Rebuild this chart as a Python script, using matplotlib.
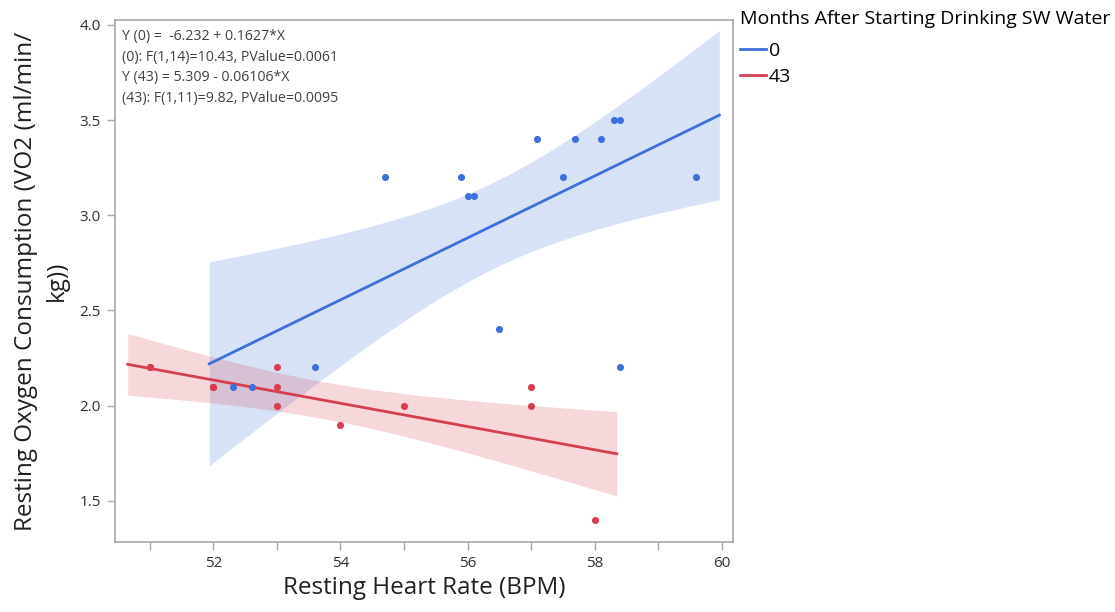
import math
import numpy as np
import matplotlib
matplotlib.use("Agg")
import matplotlib.pyplot as plt
from matplotlib.lines import Line2D

plt.rcParams['font.family'] = ['Open Sans', 'DejaVu Sans']

# ---------------- data ----------------
groups = ["0", "43"]
hr_0 = [52.3, 52.6, 53.6, 54.7, 55.9, 56.0, 56.1, 56.5, 57.1, 57.5, 57.7, 58.1, 58.3, 58.4, 59.6, 58.4]
vo2_0 = [2.1, 2.1, 2.2, 3.2, 3.2, 3.1, 3.1, 2.4, 3.4, 3.2, 3.4, 3.4, 3.5, 3.5, 3.2, 2.2]
hr_43 = [51, 51, 52, 52, 52, 53, 53, 53, 54, 55, 57, 57, 58]
vo2_43 = [2.2, 2.2, 2.1, 2.1, 2.1, 2.2, 2.1, 2.0, 1.9, 2.0, 2.1, 2.0, 1.4]
fit_text = ["Y (0) =  -6.232 + 0.1627*X",
            "(0): F(1,14)=10.43, PValue=0.0061",
            "Y (43) = 5.309 - 0.06106*X",
            "(43): F(1,11)=9.82, PValue=0.0095"]
x_ticks = [52, 54, 56, 58, 60]
y_ticks = [1.5, 2.0, 2.5, 3.0, 3.5, 4.0]

colors = {"0": "#3E6FDB", "43": "#D63F4F"}


def t_pdf(t, df):
    c = math.exp(math.lgamma((df + 1) / 2) - math.lgamma(df / 2)) / math.sqrt(df * math.pi)
    return c * (1 + t * t / df) ** (-(df + 1) / 2)


def t_quantile(p, df):
    grid = np.linspace(0, 10, 200001)
    pdf = t_pdf(grid, df)
    cdf = 0.5 + np.concatenate([[0], np.cumsum((pdf[1:] + pdf[:-1]) / 2 * np.diff(grid))])
    return float(np.interp(p, cdf, grid))


def fit_band(x, y):
    x = np.asarray(x, float)
    y = np.asarray(y, float)
    n = len(x)
    b, a = np.polyfit(x, y, 1)
    resid = y - (a + b * x)
    s = math.sqrt(np.sum(resid ** 2) / (n - 2))
    mx = x.mean()
    sxx = np.sum((x - mx) ** 2)
    rng = x.max() - x.min()
    xs = np.linspace(x.min() - 0.05 * rng, x.max() + 0.05 * rng, 200)
    ys = a + b * xs
    tc = t_quantile(0.975, n - 2)
    h = tc * s * np.sqrt(1 / n + (xs - mx) ** 2 / sxx)
    return xs, ys, h


fig = plt.figure(figsize=(11.15, 6.12), dpi=100)
ax = fig.add_axes([115 / 1115, 1 - 542 / 612, (733 - 115) / 1115, (542 - 20) / 612])

for g, hx, vy in [("0", hr_0, vo2_0), ("43", hr_43, vo2_43)]:
    xs, ys, h = fit_band(hx, vy)
    ax.fill_between(xs, ys - h, ys + h, color=colors[g], alpha=0.2, lw=0, zorder=1)
    ax.plot(xs, ys, color=colors[g], lw=2, zorder=3)
    ax.scatter(hx, vy, s=26, color=colors[g], zorder=4, lw=0)

ax.set_xlim(50.45, 60.18)
ax.set_ylim(1.283, 4.026)
ax.set_xticks(x_ticks)
ax.set_xticks(np.arange(51, 61, 1), minor=True)
ax.set_yticks(y_ticks)
ax.set_yticklabels([f"{v:.1f}" for v in y_ticks])
ax.tick_params(axis='both', which='both', direction='out', length=6, width=1,
               color='#A8A8A8', labelsize=11, labelcolor='#303030', pad=4)
for sp in ax.spines.values():
    sp.set_color('#A8A8A8')
    sp.set_linewidth(1.2)

ax.set_xlabel("Resting Heart Rate (BPM)", fontsize=17.5, color='#202020', labelpad=4)
ax.set_ylabel("Resting Oxygen Consumption (VO2 (ml/min/\nkg))", fontsize=17.5,
              color='#202020', labelpad=8, linespacing=1.35)

for i, t in enumerate(fit_text):
    ax.text(0.012, 0.968 - i * 0.0395, t, transform=ax.transAxes, fontsize=10.2,
            color='#404040', va='center', ha='left')

handles = [Line2D([0], [0], color=colors[g], lw=2) for g in groups]
leg = fig.legend(handles, groups, title="Months After Starting Drinking SW Water",
                 loc='upper left', bbox_to_anchor=(736 / 1115, 1 - 6 / 612),
                 frameon=False, fontsize=14, title_fontsize=14, alignment='left',
                 handlelength=1.35, handletextpad=0.15, labelspacing=0.42,
                 borderaxespad=0, borderpad=0.2)
leg._legend_box.sep = 0.7 * 14

fig.savefig("out.png", dpi=100)
